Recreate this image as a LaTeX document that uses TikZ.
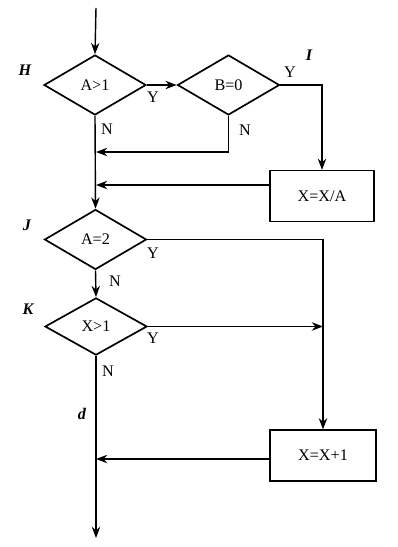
\documentclass[tikz,border=0pt]{standalone}
\usepackage{fontspec}
\setmainfont{Liberation Serif}
\usetikzlibrary{shapes.geometric,arrows.meta,positioning}

\begin{document}
\begin{tikzpicture}[x=0.025cm, y=-0.025cm, line width=1pt,
    font=\fontsize{11.5pt}{13pt}\selectfont,
    >={Stealth[length=8pt, width=6pt]},
    decision/.style={diamond, draw, line width=1.2pt, minimum width=2.55cm, minimum height=1.5cm, inner sep=0pt},
    process/.style={rectangle, draw, minimum width=2.6cm, minimum height=1.27cm},
    tag/.style={font=\fontsize{11.5pt}{13pt}\selectfont\itshape\bfseries}]
    \useasboundingbox (0,0) rectangle (398,547);

    % decisions and boxes
    \node[decision] (h) at (95,85) {A>1};
    \node[decision] (i) at (228.5,85) {B=0};
    \node[process] (xa) at (322,196) {X=X/A};
    \node[decision] (j) at (95.5,239.5) {A=2};
    \node[decision, minimum height=1.43cm] (k) at (96,326.5) {X>1};
    \node[process, minimum width=2.65cm] (xp) at (323,455.5) {X=X+1};

    % points on the main line
    \coordinate (start) at (96,8);
    \coordinate (m1) at (96,152);
    \coordinate (m2) at (96,185);
    \coordinate (m3) at (96,459);
    \coordinate (end) at (96,538);
    \coordinate (c) at (xp.north |- k.east);

    % connectors
    \draw[->] (start) -- (h.north);
    \draw[->] (h.east) -- (i.west);
    \draw[->] (i.east) -| (xa.north);
    \draw[->] (i.south) |- (m1);
    \draw[->] (xa.west |- m2) -- (m2);
    \draw[->] (h.south) -- (j.north);
    \draw[->] (j.south) -- (k.north);
    \draw[->] (j.east) -| (xp.north);
    \draw[->] (k.east) -- (c);
    \draw[->] (xp.west |- m3) -- (m3);
    \draw[->] (k.south) -- (end);

    % branch labels
    \node (yh) at (153,97) {Y};
    \node (yi) at (290,72) {Y};
    \node (yj) at (153,253) {Y};
    \node (yk) at (153,338) {Y};
    \node (nh) at (107,129) {N};
    \node (ni) at (245,130) {N};
    \node (nj) at (115,281) {N};
    \node (nk) at (108,371) {N};

    % point names
    \node[tag] (lh) at (25,70) {H};
    \node[tag] (li) at (309,55) {I};
    \node[tag] (lj) at (27,225) {J};
    \node[tag] (lk) at (28,309) {K};
    \node[tag] (ld) at (82,414) {d};
\end{tikzpicture}
\end{document}
